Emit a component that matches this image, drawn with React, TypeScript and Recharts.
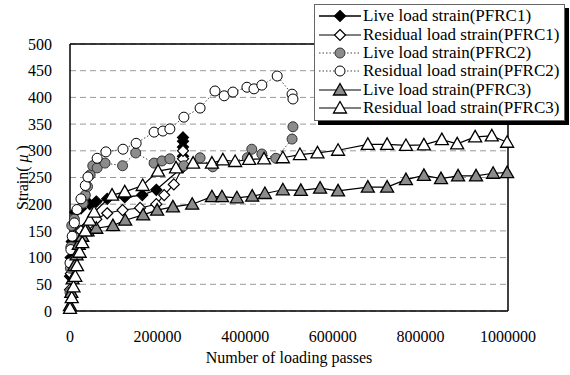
import React from 'react';
import { LineChart, Line, XAxis, YAxis, CartesianGrid, ReferenceLine } from 'recharts';

// [loading passes, strain]
const live1 = [
  [0, 65], [1500, 100], [4000, 130], [8000, 160], [12000, 185], [25000, 192], [45000, 200], [60000, 205],
  [85000, 210], [125000, 213], [165000, 217], [197000, 227], [258000, 270], [258000, 290], [258000, 307],
  [258000, 318], [258000, 325],
];
const res1 = [
  [0, 40], [2000, 70], [5000, 95], [9000, 120], [15000, 140], [25000, 150], [40000, 160], [60000, 172],
  [85000, 183], [120000, 189], [160000, 193], [197000, 200], [215000, 217], [237000, 237], [258000, 270],
  [258000, 285], [258000, 300],
];
const live2 = [
  [0, 35], [1000, 80], [2000, 120], [4000, 160], [10000, 172], [30000, 202], [35000, 217], [40000, 233],
  [46000, 255], [52000, 272], [62000, 268], [80000, 277], [120000, 272], [150000, 296], [192000, 277],
  [210000, 281], [228000, 285], [260000, 272], [297000, 287], [326000, 270], [405000, 287], [415000, 303],
  [438000, 294], [470000, 286], [507000, 322], [509000, 345],
];
const res2 = [
  [0, 90], [2000, 115], [5000, 140], [10000, 165], [16000, 190], [25000, 210], [35000, 235], [41000, 251],
  [62000, 286], [82000, 298], [121000, 303], [151000, 314], [192000, 335], [212000, 337], [228000, 341],
  [260000, 363], [297000, 380], [331000, 412], [352000, 403], [372000, 410], [404000, 419], [420000, 416],
  [438000, 423], [473000, 440], [507000, 406], [509000, 397],
];
const live3 = [
  [0, 10], [3000, 35], [6000, 60], [10000, 85], [15000, 105], [20000, 125], [28000, 140], [40000, 150],
  [60000, 155], [98000, 160], [126000, 170], [167000, 180], [199000, 189], [235000, 195], [279000, 200],
  [324000, 214], [347000, 214], [381000, 212], [416000, 215], [445000, 220], [486000, 227], [527000, 226],
  [571000, 230], [612000, 225], [680000, 232], [724000, 232], [767000, 246], [808000, 254], [847000, 248],
  [886000, 253], [927000, 253], [966000, 258], [998000, 259],
];
const res3 = [
  [0, 5], [4000, 25], [8000, 45], [12000, 65], [16000, 85], [22000, 110], [28000, 128], [35000, 150],
  [45000, 170], [55000, 185], [96000, 217], [125000, 223], [166000, 235], [201000, 262], [242000, 268],
  [281000, 277], [324000, 277], [349000, 283], [377000, 280], [409000, 284], [443000, 285], [486000, 287],
  [525000, 293], [565000, 296], [612000, 301], [680000, 312], [724000, 312], [767000, 310], [808000, 311],
  [849000, 321], [884000, 313], [925000, 326], [963000, 328], [998000, 316],
];

const xTicks = [0, 200000, 400000, 600000, 800000, 1000000];
const yTicks = [0, 50, 100, 150, 200, 250, 300, 350, 400, 450, 500];

const toRows = (pairs: number[][]) => pairs.map(([x, y]) => ({ x, y }));

const FONT = '"Liberation Serif", "Times New Roman", serif';
const GRAY = '#8c8c8c';

// marker shapes
const Shape = ({ kind, cx, cy }: { kind: string; cx: number; cy: number }) => {
  if (kind === 'diamondFill' || kind === 'diamond') {
    const s = 5.5;
    return (
      <polygon
        points={`${cx},${cy - s} ${cx + s},${cy} ${cx},${cy + s} ${cx - s},${cy}`}
        fill={kind === 'diamondFill' ? '#000' : '#fff'}
        stroke="#000"
        strokeWidth={1.2}
      />
    );
  }
  if (kind === 'circleGray' || kind === 'circle') {
    return <circle cx={cx} cy={cy} r={5} fill={kind === 'circleGray' ? GRAY : '#fff'} stroke={kind === 'circleGray' ? '#333' : '#000'} strokeWidth={1} />;
  }
  return (
    <polygon
      points={`${cx},${cy - 6.5} ${cx + 6.5},${cy + 5} ${cx - 6.5},${cy + 5}`}
      fill={kind === 'triGray' ? GRAY : '#fff'}
      stroke="#000"
      strokeWidth={1.3}
    />
  );
};

const dotOf = (kind: string) => (props: any) => (
  <Shape key={`${kind}-${props.index}`} kind={kind} cx={props.cx} cy={props.cy} />
);

const series = [
  { name: 'Live load strain(PFRC1)', data: live1, kind: 'diamondFill', dash: undefined, color: '#000', w: 1.3 },
  { name: 'Residual load strain(PFRC1)', data: res1, kind: 'diamond', dash: undefined, color: '#000', w: 1.1 },
  { name: 'Live load strain(PFRC2)', data: live2, kind: 'circleGray', dash: '1.5 2', color: '#444', w: 1 },
  { name: 'Residual load strain(PFRC2)', data: res2, kind: 'circle', dash: '1.5 2', color: '#444', w: 1 },
  { name: 'Live load strain(PFRC3)', data: live3, kind: 'triGray', dash: undefined, color: '#000', w: 1.2 },
  { name: 'Residual load strain(PFRC3)', data: res3, kind: 'tri', dash: undefined, color: '#000', w: 1.2 },
];

const YTitle = ({ viewBox }: any) => {
  const cx = viewBox.x + 12;
  const cy = viewBox.y + viewBox.height / 2;
  return (
    <text x={cx} y={cy} transform={`rotate(-90, ${cx}, ${cy})`} textAnchor="middle" dominantBaseline="central"
      fontFamily={FONT} fontSize={16} fill="#000">
      Strain(<tspan fontStyle="italic"> μ </tspan>)
    </text>
  );
};

export default function App() {
  const tickStyle = { fontFamily: FONT, fontSize: 16, fill: '#000' };
  return (
    <div style={{ position: 'absolute', left: 0, top: 0, width: 570, height: 375, background: '#fff' }}>
      <LineChart width={570} height={375} margin={{ top: 44, right: 62, bottom: 24, left: 10 }}>
        <CartesianGrid horizontal vertical={false} stroke="#999" strokeDasharray="6 4" />
        <XAxis
          type="number"
          dataKey="x"
          domain={[0, 1000000]}
          ticks={xTicks}
          allowDuplicatedCategory={false}
          height={40}
          tickLine={false}
          tickMargin={14}
          axisLine={{ stroke: '#000', strokeWidth: 1.5 }}
          tick={tickStyle}
          label={{ value: 'Number of loading passes', position: 'bottom', offset: 1, style: { fontFamily: FONT, fontSize: 16, fill: '#000' } }}
        />
        <YAxis
          type="number"
          domain={[0, 500]}
          ticks={yTicks}
          width={60}
          tickLine={false}
          tickMargin={12}
          axisLine={{ stroke: '#000', strokeWidth: 1.5 }}
          tick={tickStyle}
          label={<YTitle />}
        />
        <ReferenceLine y={500} stroke="#000" strokeWidth={1.5} />
        <ReferenceLine x={1000000} stroke="#000" strokeWidth={1.5} />
        {series.map((s) => (
          <Line
            key={s.name}
            data={toRows(s.data)}
            dataKey="y"
            name={s.name}
            type="linear"
            stroke={s.color}
            strokeWidth={s.w}
            strokeDasharray={s.dash}
            dot={dotOf(s.kind)}
            activeDot={false}
            isAnimationActive={false}
          />
        ))}
      </LineChart>
      <div
        style={{
          position: 'absolute', left: 314, top: 4, width: 249, padding: '2px 0 3px 0',
          background: '#fff', border: '1px solid #666', boxShadow: '4px 4px 0 #000',
          fontFamily: FONT, fontSize: 17, color: '#000',
        }}
      >
        {series.map((s) => (
          <div key={s.name} style={{ display: 'flex', alignItems: 'center', height: 18.4, whiteSpace: 'nowrap' }}>
            <svg width={48} height={18} style={{ flex: 'none' }}>
              <line x1={4} y1={9} x2={46} y2={9} stroke={s.color} strokeWidth={s.w} strokeDasharray={s.dash} />
              <Shape kind={s.kind} cx={25} cy={9} />
            </svg>
            <span>{s.name}</span>
          </div>
        ))}
      </div>
    </div>
  );
}
